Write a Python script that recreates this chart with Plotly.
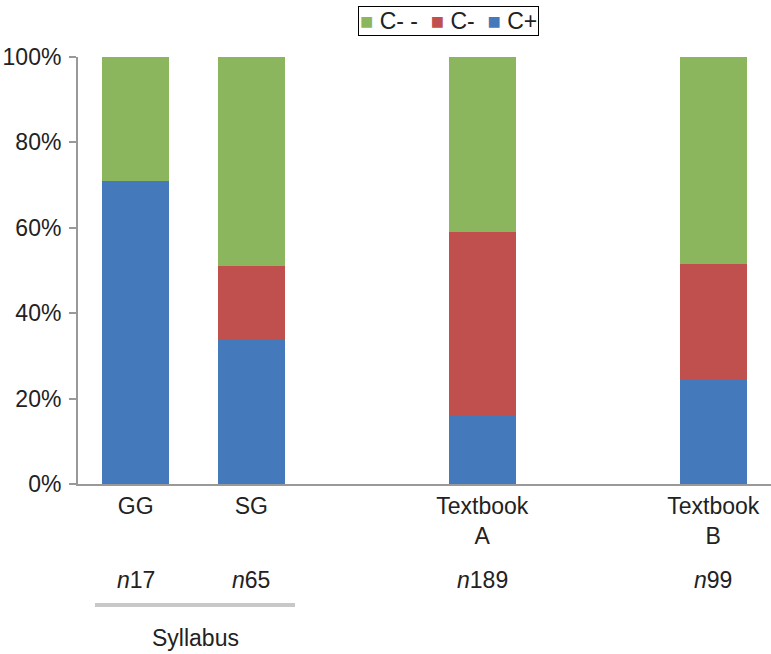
import plotly.graph_objects as go

categories = ["GG", "SG", "Textbook<br>A", "Textbook<br>B"]
positions = [0, 1, 3, 5]
n_labels = ["<i>n</i>17", "<i>n</i>65", "<i>n</i>189", "<i>n</i>99"]
c_plus = [71.0, 34.0, 16.2, 24.6]
c_minus = [0.0, 17.0, 42.8, 26.9]
c_minus_minus = [29.0, 49.0, 41.0, 48.5]
y_ticks = [0, 20, 40, 60, 80, 100]
y_tick_labels = ["0%", "20%", "40%", "60%", "80%", "100%"]
series_names = ["C+", "C-", "C- -"]
series_colors = ["#4479BC", "#C0504D", "#8CB65E"]

FONT = "Liberation Sans, Arial, sans-serif"
TXT = "#222222"
FS = 23

W, H = 771, 654
L, T, B = 78, 57, 170
PH = H - T - B
PW = W - L

fig = go.Figure()
for vals, name, col in zip([c_plus, c_minus, c_minus_minus], series_names, series_colors):
    fig.add_trace(go.Bar(x=positions, y=vals, name=name, marker=dict(color=col, line=dict(width=0)),
                         width=0.58, showlegend=False))

# legend (custom, compact like the reference)
parts = []
for name, col in zip(reversed(series_names), reversed(series_colors)):
    parts.append('<span style="color:%s;font-size:22px">■</span> %s' % (col, name))
fig.add_annotation(x=(448 - L) / PW, y=1 + (T - 20.5) / PH, xref="paper", yref="paper",
                   text="  ".join(parts), showarrow=False,
                   font=dict(size=FS, color=TXT, family=FONT), bordercolor="black", borderwidth=1,
                   bgcolor="white", borderpad=1, xanchor="center", yanchor="middle")

for p, t in zip(positions, n_labels):
    fig.add_annotation(x=p, y=-(580 - 484) / PH, xref="x", yref="paper", text=t, showarrow=False,
                       font=dict(size=FS, color=TXT, family=FONT), yanchor="middle")

fig.add_shape(type="line", xref="x", yref="paper", x0=-0.353, x1=1.379,
              y0=-(605 - 484) / PH, y1=-(605 - 484) / PH,
              line=dict(color="#C8C8C8", width=4))
fig.add_annotation(x=0.513, y=-(638 - 484) / PH, xref="x", yref="paper", text="Syllabus", showarrow=False,
                   font=dict(size=FS, color=TXT, family=FONT), yanchor="middle")

fig.update_layout(
    barmode="stack",
    width=W, height=H,
    margin=dict(l=L, r=0, t=T, b=B, autoexpand=False),
    plot_bgcolor="white", paper_bgcolor="white",
    font=dict(family=FONT, size=FS, color=TXT),
    showlegend=False,
)
fig.update_xaxes(range=[-0.5, 5.5], tickvals=positions, ticktext=categories, showline=True,
                 linecolor="#999999", linewidth=2, ticks="", showgrid=False, zeroline=False,
                 tickfont=dict(size=FS, color=TXT))
fig.update_yaxes(range=[0, 100], tickvals=y_ticks, ticktext=y_tick_labels,
                 showline=True, linecolor="#999999", linewidth=2, ticks="outside", ticklen=7,
                 tickcolor="#999999", tickwidth=2, showgrid=False, zeroline=False,
                 ticklabelstandoff=3, tickfont=dict(size=FS, color=TXT))

fig.write_html("out.html", config={"displayModeBar": False},
               post_script="document.body.style.margin='0';document.body.style.overflow='hidden';")
